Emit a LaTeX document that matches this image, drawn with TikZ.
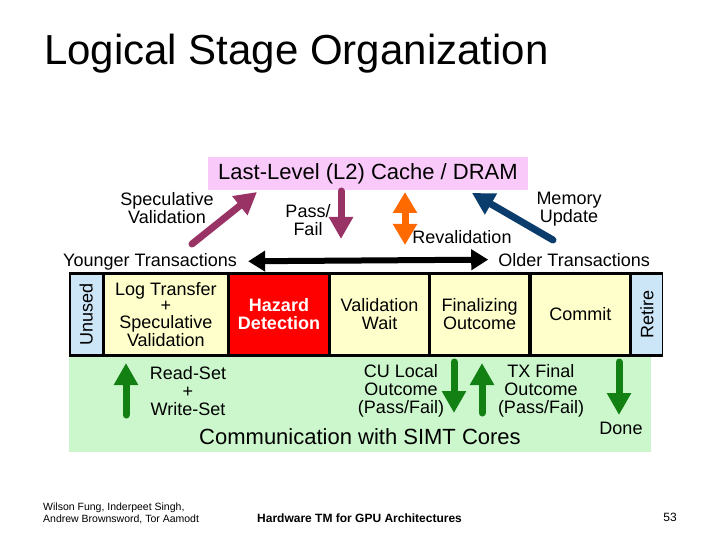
\documentclass[tikz,border=0pt]{standalone}
\usepackage{fontspec}
\setmainfont{Liberation Sans}
\usetikzlibrary{arrows.meta}

\begin{document}
\begin{tikzpicture}[x=1pt,y=-1pt,
  lbl/.style={font=\fontsize{18}{17.5}\selectfont,align=center,inner sep=0pt},
  stagebox/.style={draw=black,line width=1.6pt,anchor=north west,minimum height=81pt,inner sep=0pt,font=\fontsize{18}{16.5}\selectfont,align=center},
  fatarrow/.style={line width=7pt,line cap=round,-{Triangle[width=23pt,length=22pt]}},
  greenarrow/.style={fatarrow,leaf},
  twoway/.style={line width=6pt,{Triangle[width=20pt,length=17pt]}-{Triangle[width=20pt,length=17pt]}}]
\definecolor{cachepink}{HTML}{F9C9F9}\definecolor{plum}{HTML}{993366}
\definecolor{flame}{HTML}{FF6A00}\definecolor{deepblue}{HTML}{0A3D6B}
\definecolor{leaf}{HTML}{138013}\definecolor{paleyellow}{HTML}{FFFFCC}
\definecolor{paleblue}{HTML}{CCE5F7}\definecolor{palegreen}{HTML}{CCF7CC}
\definecolor{hazardred}{HTML}{FF0000}
\useasboundingbox[fill=white] (0,0) rectangle (720,540);
\node[anchor=base west,inner sep=0pt,font=\fontsize{42}{46}\selectfont] (title) at (44,65) {Logical Stage Organization};
\node[fill=cachepink,minimum width=320pt,minimum height=33pt,inner sep=0pt,font=\fontsize{22}{24}\selectfont] (cache) at (368,173.5) {Last-Level (L2) Cache / DRAM};
\node[lbl] (specval) at (167,208) {Speculative\\Validation};
\node[lbl] (passfail) at (308,220) {Pass/\\Fail};
\node[lbl] (reval) at (462,237) {Revalidation};
\node[lbl] (memupd) at (569,209) {Memory\\Update};
\node[lbl,anchor=base west] (younger) at (63,266) {Younger Transactions};
\node[lbl,anchor=base east] (older) at (650,266) {Older Transactions};
\coordinate (specfrom) at (192,244);\coordinate (specto) at (257,192);
\coordinate (pffrom) at (341,191);\coordinate (pfto) at (341,239);
\coordinate (revaltop) at (405,192);\coordinate (revalbot) at (405,245);
\coordinate (memfrom) at (553,240);\coordinate (memto) at (472,193);
\draw[fatarrow,plum] (specfrom) -- (specto);
\draw[fatarrow,plum] (pffrom) -- (pfto);
\draw[line width=7pt,flame,{Triangle[width=23pt,length=21pt]}-{Triangle[width=23pt,length=21pt]}] (revaltop) -- (revalbot);
\draw[fatarrow,deepblue] (memfrom) -- (memto);
\draw[twoway,shorten <=11pt,shorten >=10pt] (younger.east) -- (older.west);
\fill[palegreen] (69,354) rectangle (651,452);
\node[stagebox,fill=paleblue,minimum width=33pt] (unused) at (69,273) {\rotatebox{90}{Unused}};
\node[stagebox,fill=paleyellow,minimum width=123pt] (logxfer) at (unused.north east) {Log Transfer\\+\\Speculative\\Validation};
\node[stagebox,fill=hazardred,minimum width=100pt,text=white,font=\fontsize{18}{18}\selectfont\bfseries] (hazard) at (logxfer.north east) {Hazard\\Detection};
\node[stagebox,fill=paleyellow,minimum width=98pt,font=\fontsize{18}{18}\selectfont] (valwait) at (hazard.north east) {Validation\\Wait};
\node[stagebox,fill=paleyellow,minimum width=99pt,font=\fontsize{18}{18}\selectfont] (finalize) at (valwait.north east) {Finalizing\\Outcome};
\node[stagebox,fill=paleyellow,minimum width=99pt] (commit) at (finalize.north east) {Commit};
\node[stagebox,fill=paleblue,minimum width=31pt] (retire) at (commit.north east) {\rotatebox{90}{Retire}};
\draw[line width=3pt] (unused.north west) -- (retire.north east);
\draw[line width=3pt] (unused.south west) -- (retire.south east);
\node[lbl,font=\fontsize{18}{18}\selectfont] (rwset) at (188,391) {Read-Set\\+\\Write-Set};
\node[lbl,font=\fontsize{18}{18}\selectfont] (culocal) at (401,391) {CU Local\\Outcome\\(Pass/Fail)};
\node[lbl,font=\fontsize{18}{18}\selectfont] (txfinal) at (541,391) {TX Final\\Outcome\\(Pass/Fail)};
\node[lbl] (done) at (621,428) {Done};
\node[inner sep=0pt,font=\fontsize{22}{24}\selectfont] (simt) at (360,437) {Communication with SIMT Cores};
\coordinate (rwfrom) at (126,415);\coordinate (rwto) at (126,363);
\coordinate (cufrom) at (454,362);\coordinate (cuto) at (454,413);
\coordinate (txfrom) at (482,413);\coordinate (txto) at (482,363);
\coordinate (donefrom) at (619,362);\coordinate (doneto) at (619,415);
\draw[greenarrow] (rwfrom) -- (rwto);
\draw[greenarrow] (cufrom) -- (cuto);
\draw[greenarrow] (txfrom) -- (txto);
\draw[greenarrow] (donefrom) -- (doneto);
\node[anchor=north west,inner sep=0pt,align=left,font=\fontsize{10.5}{12.5}\selectfont] (authors) at (43,502.5) {Wilson Fung, Inderpeet Singh,\\Andrew Brownsword, Tor Aamodt};
\node[anchor=base west,inner sep=0pt,font=\fontsize{12}{14}\selectfont\bfseries] (course) at (257,522) {Hardware TM for GPU Architectures};
\node[anchor=base east,inner sep=0pt,font=\fontsize{12}{14}\selectfont] (pagenum) at (677,521) {53};
\end{tikzpicture}
\end{document}
